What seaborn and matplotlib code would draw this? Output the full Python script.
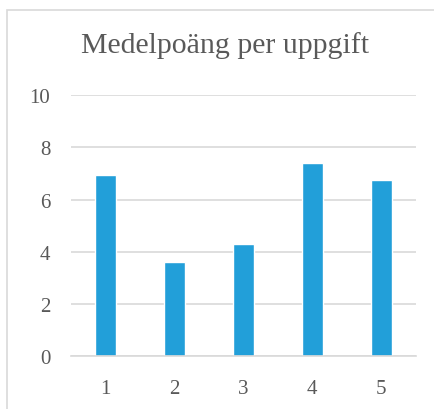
import numpy as np
import pandas as pd
import matplotlib
matplotlib.use("Agg")
import matplotlib.pyplot as plt
from matplotlib.patches import Rectangle
import seaborn as sns

# data
tasks = ["1", "2", "3", "4", "5"]
avg_points = [6.92, 3.62, 4.31, 7.41, 6.73]
y_ticks = [0, 2, 4, 6, 8, 10]

title = "Medelpoäng per uppgift"
bar_color = "#229FD9"
grid_color = "#D9D9D9"
text_color = "#595959"

sns.set_theme(style="white")
plt.rcParams["font.family"] = ["Liberation Serif", "DejaVu Serif"]

df = pd.DataFrame({"uppgift": tasks, "poang": avg_points})

fig = plt.figure(figsize=(4.35, 4.10), dpi=100)
ax = fig.add_axes([71 / 435, 1 - 357.3 / 410, (415.7 - 71) / 435, (357.3 - 96) / 410])

sns.barplot(data=df, x="uppgift", y="poang", color=bar_color, width=0.31,
            saturation=1, ax=ax)

ax.set_ylim(0, 10)
ax.set_xlim(-0.5, 4.5)
ax.set_yticks(y_ticks)
ax.set_yticklabels([str(t) for t in y_ticks])
ax.yaxis.grid(True, color=grid_color, linewidth=1.2)
ax.set_axisbelow(True)
for s in ["top", "right", "left"]:
    ax.spines[s].set_visible(False)
ax.spines["bottom"].set_color(grid_color)
ax.spines["bottom"].set_linewidth(1.2)
ax.tick_params(axis="x", length=0, pad=16, labelsize=15, labelcolor=text_color)
ax.tick_params(axis="y", length=0, pad=15, labelsize=15, labelcolor=text_color)
ax.set_xlabel("")
ax.set_ylabel("")

fig.text(225 / 435, 1 - 46 / 410, title, ha="center", va="center",
         fontsize=21.5, color=text_color)

# outer chart border
fig.patches.append(Rectangle((7 / 435, -0.1), 1.2, 1 - 11 / 410 + 0.1,
                             transform=fig.transFigure, fill=False,
                             edgecolor=grid_color, linewidth=1.2))

fig.savefig("out.png", dpi=100)
